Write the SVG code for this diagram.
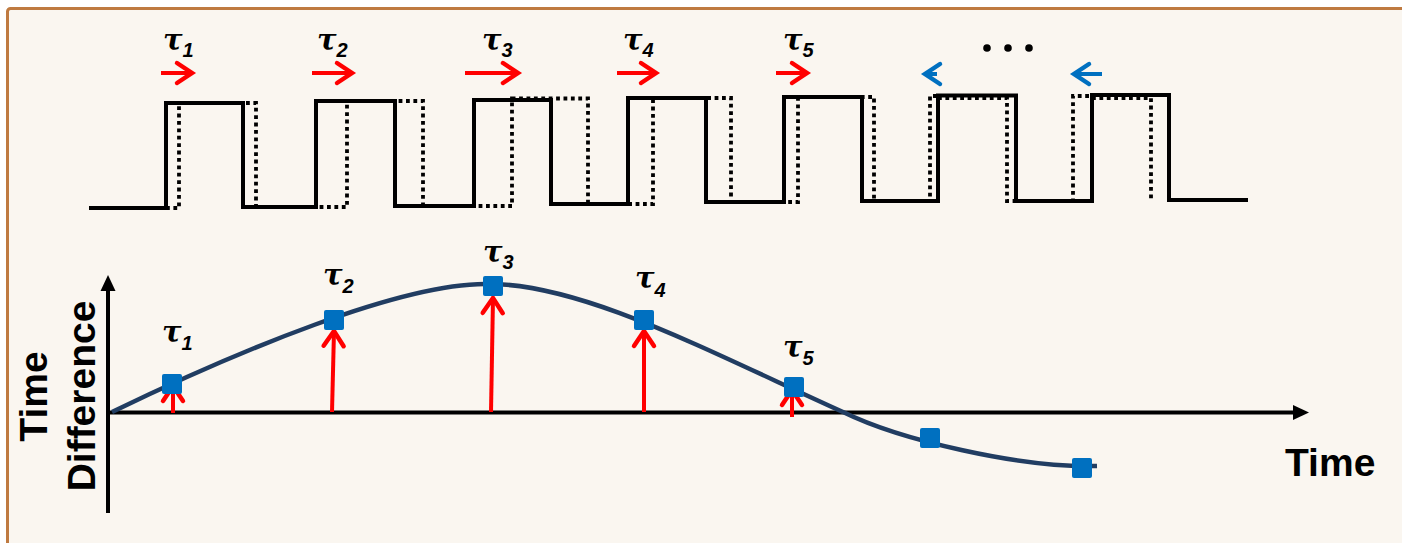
<svg xmlns="http://www.w3.org/2000/svg" width="1402" height="543" viewBox="0 0 1402 543">
<style>
.wave{fill:none;stroke:#000;stroke-width:4;stroke-linejoin:miter}
.dot{fill:none;stroke:#000;stroke-width:3.8;stroke-dasharray:3.8 3.6}
.axis{stroke:#000;stroke-width:4;fill:none}
.red{stroke:#FF0000;stroke-width:4;fill:none;marker-end:url(#rh)}
.blue{stroke:#0070C0;stroke-width:4;fill:none;marker-end:url(#bh)}
.tau{font-family:"DejaVu Serif","Liberation Serif",serif;font-style:italic;font-weight:bold;font-size:29px;fill:#000}
.sub{font-family:"Liberation Sans",sans-serif;font-style:italic;font-weight:bold;font-size:20px}
.lbl{font-family:"Liberation Sans",Arial,sans-serif;font-weight:bold;font-size:39px;fill:#000}
.sq{fill:#0070C0}
</style>
<defs>
<marker id="rh" markerUnits="userSpaceOnUse" viewBox="-20 -15 30 30" refX="0" refY="0" markerWidth="30" markerHeight="30" orient="auto" overflow="visible">
<path d="M-15,-10 L0,0 L-15,10" fill="none" stroke="#FF0000" stroke-width="4.5" stroke-linecap="round"/>
</marker>
<marker id="bh" markerUnits="userSpaceOnUse" viewBox="-20 -15 30 30" refX="0" refY="0" markerWidth="30" markerHeight="30" orient="auto" overflow="visible">
<path d="M-15,-10 L0,0 L-15,10" fill="none" stroke="#0070C0" stroke-width="4.5" stroke-linecap="round"/>
</marker>
</defs>
<rect x="0" y="0" width="1402" height="543" fill="#FFFFFF"/>
<rect x="7.5" y="8.5" width="1420" height="560" rx="3" fill="#FAF6F0" stroke="#BF7A40" stroke-width="3"/>

<g id="waveform">
<path class="dot" d="M166,208 L179,208 L179,103 L256,103 L256,207 L347,207 L347,101 L423,101 L423,206 L512,206 L512,98.5 L588,98.5 L588,204 L653,204 L653,98 L731,98 L731,202 L798,202 L798,97 L874,97 L874,201 L930,201 L930,96 L938,96 M938,98 L1007,98 L1007,201 L1073,201 L1073,96 L1092,96 M1092,98 L1151,98 L1151,200"/>
<path class="wave" d="M89,208 L166,208 L166,103 L243,103 L243,207 L316,207 L316,101 L395,101 L395,206 L474,206 L474,100 L551,100 L551,204 L628,204 L628,98 L706,98 L706,202 L784,202 L784,97 L862,97 L862,201 L938,201 L938,95.5 L1016,95.5 L1016,201 L1092,201 L1092,95 L1169,95 L1169,200 L1248,200"/>
<circle cx="987" cy="48" r="3.8"/>
<circle cx="1008" cy="48" r="3.8"/>
<circle cx="1029" cy="48" r="3.8"/>
</g>

<g id="top-labels">
<text class="tau" x="163" y="50">τ<tspan class="sub" dy="7">1</tspan></text>
<text class="tau" x="317" y="50">τ<tspan class="sub" dy="7">2</tspan></text>
<text class="tau" x="482" y="50">τ<tspan class="sub" dy="7">3</tspan></text>
<text class="tau" x="623" y="50">τ<tspan class="sub" dy="7">4</tspan></text>
<text class="tau" x="783" y="50">τ<tspan class="sub" dy="7">5</tspan></text>
</g>

<g id="top-arrows">
<path class="red" d="M161,73 L192,73"/>
<path class="red" d="M312,73 L352,73"/>
<path class="red" d="M465,73 L518,73"/>
<path class="red" d="M617,73 L656,73"/>
<path class="red" d="M776,73 L807,73"/>
<path class="blue" d="M937,74 L925,74"/>
<path class="blue" d="M1102,74 L1074,74"/>
</g>

<g id="axes">
<path class="axis" d="M108,513 L108,288"/>
<polygon points="108,275 100.5,291 115.5,291" fill="#000"/>
<path class="axis" d="M108,412.5 L1296,412.5"/>
<polygon points="1309,412.5 1293,405 1293,420" fill="#000"/>
<text class="lbl" transform="translate(47,396.5) rotate(-90)" text-anchor="middle">Time</text>
<text class="lbl" transform="translate(95,396) rotate(-90)" text-anchor="middle">Difference</text>
<text class="lbl" x="1285" y="476">Time</text>
</g>

<g id="curve">
<path d="M112,412 C240,350 400,284 485,284 C580,282 710,352 843,412 C900,440 1020,468 1097,466" fill="none" stroke="#213D62" stroke-width="4.5"/>
</g>

<g id="connectors">
<path class="red" d="M173,413 L173,386"/>
<path class="red" d="M332,412 L334,331"/>
<path class="red" d="M491,412 L493,298"/>
<path class="red" d="M644,412 L644,331"/>
<path class="red" d="M792,417 L792,390"/>
</g>

<g id="points">
<rect class="sq" x="162" y="374" width="20" height="20" rx="2"/>
<rect class="sq" x="324" y="310" width="20" height="20" rx="2"/>
<rect class="sq" x="483" y="276" width="20" height="20" rx="2"/>
<rect class="sq" x="634" y="310" width="20" height="20" rx="2"/>
<rect class="sq" x="784" y="377" width="20" height="20" rx="2"/>
<rect class="sq" x="920" y="428" width="20" height="20" rx="2"/>
<rect class="sq" x="1072" y="458" width="20" height="20" rx="2"/>
</g>

<g id="plot-labels">
<text class="tau" x="162" y="342">τ<tspan class="sub" dy="8">1</tspan></text>
<text class="tau" x="323" y="285">τ<tspan class="sub" dy="8">2</tspan></text>
<text class="tau" x="483" y="262">τ<tspan class="sub" dy="7">3</tspan></text>
<text class="tau" x="635" y="288">τ<tspan class="sub" dy="9">4</tspan></text>
<text class="tau" x="783" y="357">τ<tspan class="sub" dy="8">5</tspan></text>
</g>
</svg>
